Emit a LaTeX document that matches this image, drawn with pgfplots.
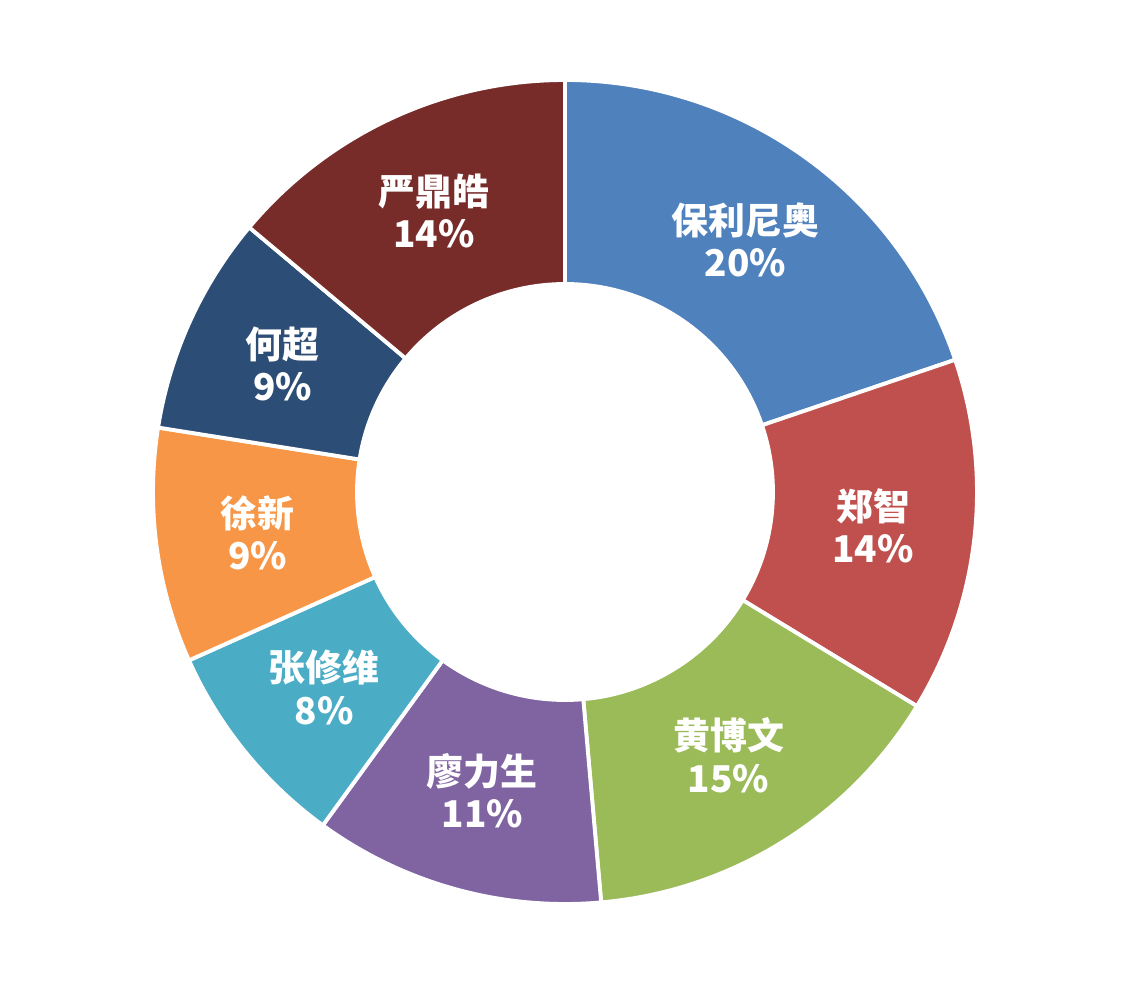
\documentclass[border=0pt]{standalone}
\usepackage{fontspec}
\newfontfamily\cjk{Noto Sans CJK SC}
\usepackage{pgfplots}
\pgfplotsset{compat=1.18}
\usepackage{pgfplotstable}

\definecolor{slice0}{HTML}{4F81BD}
\definecolor{slice1}{HTML}{C0504D}
\definecolor{slice2}{HTML}{9BBB59}
\definecolor{slice3}{HTML}{8064A2}
\definecolor{slice4}{HTML}{4BACC6}
\definecolor{slice5}{HTML}{F79646}
\definecolor{slice6}{HTML}{2C4D75}
\definecolor{slice7}{HTML}{772C2A}

% share of each person, clockwise from the top
\pgfplotstableread[col sep=comma]{
name,value
保利尼奥,19.8
郑智,13.9
黄博文,14.9
廖力生,11.4
张修维,8.3
徐新,9.2
何超,8.6
严鼎皓,13.9
}\donutdata

\def\cx{5.65}
\def\cy{4.94}
\def\rout{4.12}
\def\rin{2.08}
\def\rlab{3.10}

\begin{document}
\begin{tikzpicture}
% start/end angles of every slice
\xdef\cum{0}
\foreach \i in {0,...,7}{
  \pgfplotstablegetelem{\i}{value}\of\donutdata
  \let\sliceval\pgfplotsretval
  \pgfmathsetmacro\sa{90-3.6*\cum}
  \pgfmathsetmacro\sb{90-3.6*(\cum+\sliceval)}
  \pgfmathsetmacro\sm{(\sa+\sb)/2}
  \pgfmathtruncatemacro\pct{round(\sliceval)}
  \expandafter\xdef\csname sa\i\endcsname{\sa}
  \expandafter\xdef\csname sb\i\endcsname{\sb}
  \expandafter\xdef\csname sm\i\endcsname{\sm}
  \expandafter\xdef\csname pc\i\endcsname{\pct}
  \pgfplotstablegetelem{\i}{name}\of\donutdata
  \expandafter\global\expandafter\let\csname nm\i\endcsname\pgfplotsretval
  \pgfmathsetmacro\c{\cum+\sliceval}
  \xdef\cum{\c}
}
\begin{axis}[
    hide axis,
    x=1cm, y=1cm,
    xmin=0, xmax=11.31,
    ymin=0, ymax=9.86,
    clip=false,
]
\path (axis cs:0,0) rectangle (axis cs:11.31,9.86);
\pgfplotsinvokeforeach{0,...,7}{
  \fill[slice#1, draw=white, line width=1.1pt, line join=round]
    ([shift={(\csname sa#1\endcsname:\rout)}]axis cs:\cx,\cy)
    arc[start angle=\csname sa#1\endcsname, end angle=\csname sb#1\endcsname, radius=\rout]
    -- ([shift={(\csname sb#1\endcsname:\rin)}]axis cs:\cx,\cy)
    arc[start angle=\csname sb#1\endcsname, end angle=\csname sa#1\endcsname, radius=\rin]
    -- cycle;
  \node[text=white, align=center, inner sep=0pt,
        font=\cjk\bfseries\fontsize{10.5}{12}\selectfont]
    at ([shift={(\csname sm#1\endcsname:\rlab)}]axis cs:\cx,\cy)
    {\csname nm#1\endcsname\\\csname pc#1\endcsname\%};
}
\end{axis}
\end{tikzpicture}
\end{document}
